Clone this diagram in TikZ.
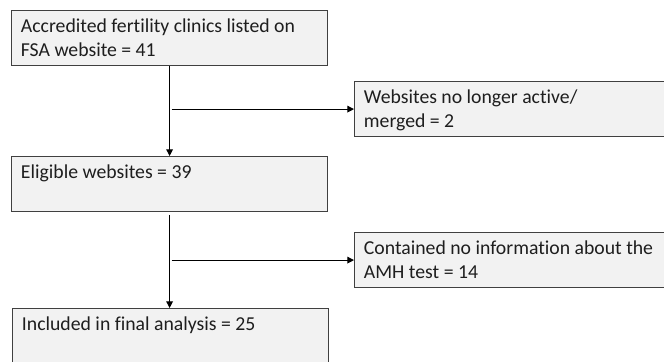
\documentclass[tikz,border=0pt]{standalone}
\usepackage{fontspec}
\setmainfont[Ligatures={NoCommon}, RawFeature={-liga;-clig}]{Carlito}
\usetikzlibrary{positioning, arrows.meta}
\definecolor{boxfill}{HTML}{F2F2F2}
\definecolor{boxline}{HTML}{404040}
\definecolor{boxtext}{HTML}{1E1E1E}
\newcommand{\flowtext}[1]{\parbox[t][28.25pt][t]{223pt}{\raggedright #1}}

\begin{document}
\begin{tikzpicture}
    [
        x=0.75pt, y=-0.75pt,
        flow_box/.style={rectangle, draw=boxline, fill=boxfill, line width=0.9pt, anchor=north west, inner xsep=7pt, inner ysep=6.5pt, text=boxtext, font=\fontsize{14.8}{17.4}\selectfont},
        flow_arrow/.style={-{Triangle[length=5pt, width=5pt]}, line width=0.8pt, color=black},
    ]
        \useasboundingbox (0,0) rectangle (664,361);
        \node[flow_box] (clinics) at (11,10) {\flowtext{Accredited fertility clinics listed on\\FSA website = 41}} ;
        \node[flow_box] (inactive) at (354,81) {\flowtext{Websites no longer active/\\merged = 2}} ;
        \node[flow_box] (eligible) at (11,156) {\flowtext{Eligible websites = 39}} ;
        \node[flow_box] (noinfo) at (354,232) {\flowtext{Contained no information about the\\AMH test = 14}} ;
        \node[flow_box] (included) at (12,308) {\flowtext{Included in final analysis = 25}} ;
        \coordinate (split1) at ([xshift=1.5pt]clinics.south |- inactive.west) ;
        \coordinate (split2) at ([xshift=1.5pt]eligible.south |- noinfo.west) ;
        \coordinate (trunk2) at ([yshift=-2pt]eligible.south) ;
        \draw[flow_arrow] (clinics.south) -- (eligible.north) ;
        \draw[flow_arrow] (split1) -- (inactive.west) ;
        \draw[flow_arrow] (trunk2) -- (trunk2 |- included.north) ;
        \draw[flow_arrow] (split2) -- (noinfo.west) ;
    \end{tikzpicture}
\end{document}
